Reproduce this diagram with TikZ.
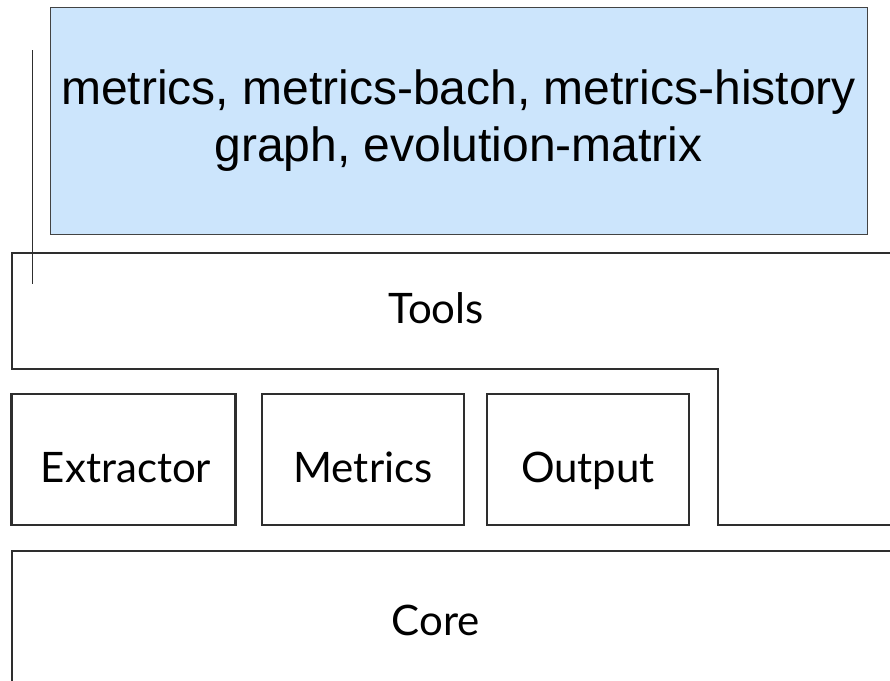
\documentclass[tikz,border=0pt]{standalone}
\usepackage{fontspec}
\setmainfont{Lato}
\newfontfamily\arialfont{Liberation Sans}
\definecolor{boxline}{HTML}{2E2E2E}
\definecolor{toolfill}{HTML}{CCE5FC}
\begin{document}
\begin{tikzpicture}[x=1pt,y=-1pt,
  layer/.style={draw=boxline,line width=2.2pt},
  modbox/.style={layer,rectangle,inner sep=0pt},
  lbl/.style={font=\fontsize{42}{48}\selectfont,inner sep=0pt,anchor=base},
  toolbox/.style={draw=boxline!90,line width=1pt,fill=toolfill,rectangle,inner sep=0pt,
    align=center,font=\arialfont\fontsize{48}{57}\selectfont}]
  \useasboundingbox (0,0) rectangle (890,680);

  % tools listed above the layers
  \node[toolbox,minimum width=817pt,minimum height=227pt] (tools) at (458.5,120.5)
    {metrics, metrics-bach, metrics-history\\graph, evolution-matrix};

  % marker line at the left
  \coordinate (mtop) at (32,50);
  \coordinate (mbot) at (32,284);
  \draw[boxline,line width=0.9pt] (mtop) -- (mbot);

  % Tools layer (stepped outline)
  \draw[layer] (892,253) -- (12,253) -- (12,369) -- (718,369) -- (718,525) -- (892,525);
  \node[lbl] (toolslbl) at (436,323) {Tools};

  % module boxes
  \node[modbox,minimum width=224pt,minimum height=131pt] (extractor) at (123.5,459.5) {};
  \node[modbox,minimum width=202pt,minimum height=131pt] (metrics) at (363,459.5) {};
  \node[modbox,minimum width=202pt,minimum height=131pt] (output) at (588,459.5) {};
  \node[lbl] (extractorlbl) at (126,482) {Extractor};
  \node[lbl] (metricslbl) at (363,482) {Metrics};
  \node[lbl] (outputlbl) at (588,482) {Output};

  % Core layer
  \draw[layer] (892,551) -- (12,551) -- (12,692);
  \node[lbl] (corelbl) at (436,635) {Core};
\end{tikzpicture}
\end{document}
